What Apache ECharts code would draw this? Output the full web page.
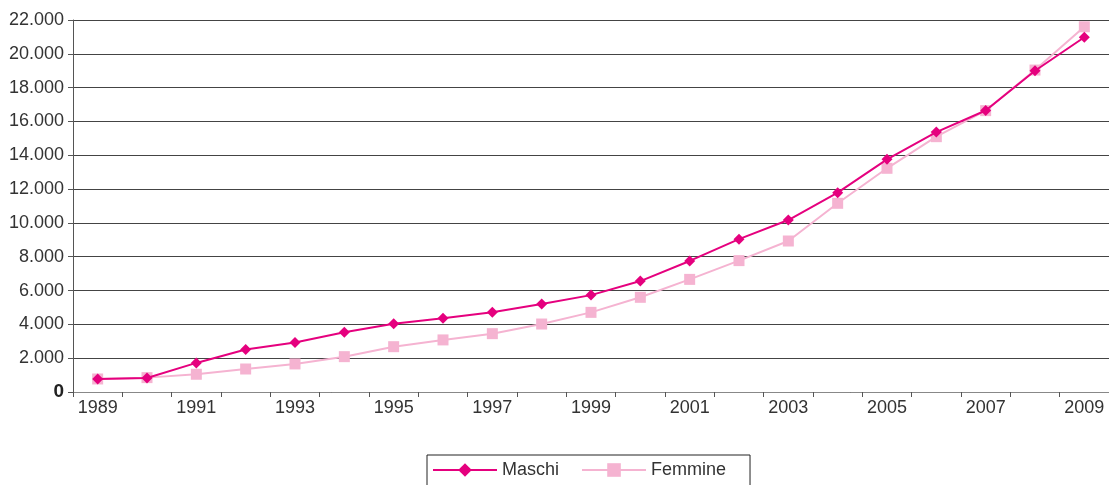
<!DOCTYPE html>
<html>
<head>
<meta charset="utf-8">
<script src="https://cdn.jsdelivr.net/npm/echarts@6/dist/echarts.min.js"></script>
<style>
  html, body { margin: 0; padding: 0; background: #fff; }
  #chart { width: 1109px; height: 485px; }
</style>
</head>
<body>
<div id="chart"></div>
<script>
var anni = ["1989", "1990", "1991", "1992", "1993", "1994", "1995", "1996", "1997", "1998", "1999",
  "2000", "2001", "2002", "2003", "2004", "2005", "2006", "2007", "2008", "2009"];
var maschi = [770, 830, 1720, 2510, 2930, 3530, 4030, 4360, 4710, 5210, 5730,
  6560, 7750, 9040, 10170, 11790, 13760, 15370, 16650, 19000, 20980];
var femmine = [770, 850, 1050, 1360, 1660, 2090, 2680, 3080, 3450, 4020, 4710,
  5600, 6660, 7770, 8930, 11160, 13230, 15100, 16640, 19040, 21600];

var c = echarts.init(document.getElementById("chart"));
var font = "'Liberation Sans', Arial, sans-serif";

function fmt(v) {
  if (v === 0) return "{z|0}";
  return String(v).replace(/\B(?=(\d{3})+(?!\d))/g, ".");
}

var m = {
  animation: false,
  textStyle: { fontFamily: font },
  grid: { left: 73, right: 0, top: 20, bottom: 93, containLabel: false },
  legend: {
    left: 427,
    top: 455,
    itemWidth: 64,
    itemHeight: 17,
    itemGap: 22,
    padding: [6, 24, 10, 5],
    borderColor: "#222",
    borderWidth: 1,
    textStyle: { fontSize: 18, color: "#333", fontFamily: font },
    data: ["Maschi", "Femmine"]
  },
  xAxis: {
    type: "category",
    data: anni,
    boundaryGap: true,
    axisLine: { lineStyle: { color: "#888", width: 1 } },
    axisTick: { show: true, interval: 0, length: 5, lineStyle: { color: "#555" } },
    axisLabel: { interval: 1, color: "#333", fontSize: 18, margin: 7, fontFamily: font }
  },
  yAxis: {
    type: "value",
    min: 0,
    max: 22000,
    interval: 2000,
    axisLine: { show: true, lineStyle: { color: "#555" } },
    axisTick: { show: true, length: 5, lineStyle: { color: "#555" } },
    splitLine: { lineStyle: { color: "#444", width: 1 } },
    axisLabel: {
      color: "#333",
      fontSize: 18,
      margin: 9,
      fontFamily: font,
      formatter: fmt,
      rich: { z: { fontSize: 19, fontWeight: "bold", color: "#222", fontFamily: font } }
    }
  },
  series: [
    {
      name: "Maschi",
      type: "line",
      data: maschi,
      symbol: "diamond",
      symbolSize: 11,
      lineStyle: { color: "#e5007e", width: 2 },
      itemStyle: { color: "#e5007e" },
      z: 3
    },
    {
      name: "Femmine",
      type: "line",
      data: femmine,
      symbol: "rect",
      symbolSize: 11,
      lineStyle: { color: "#f5b3d1", width: 2 },
      itemStyle: { color: "#f5b3d1" },
      z: 2
    }
  ]
};
c.setOption(m);
</script>
</body>
</html>
